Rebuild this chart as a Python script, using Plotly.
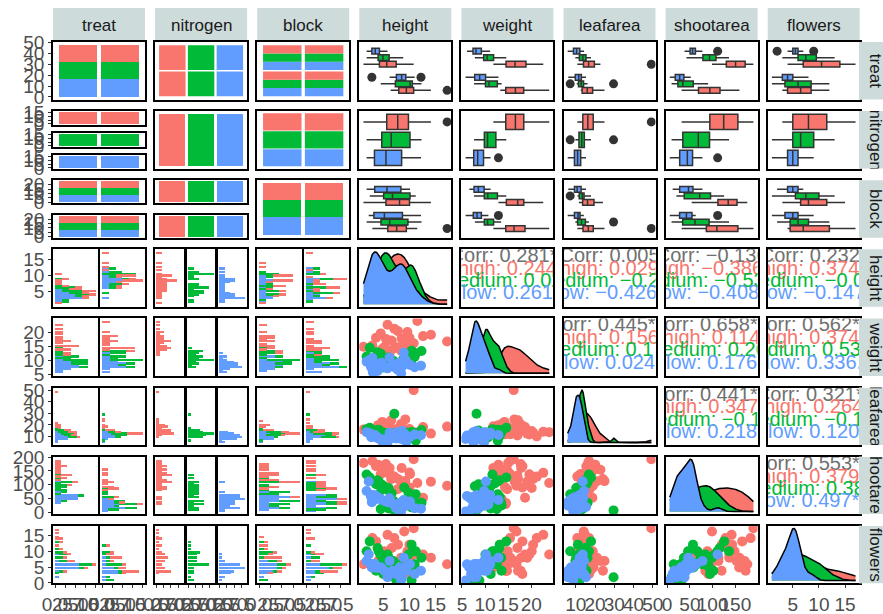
import numpy as np
import plotly.graph_objects as go

W, H = 883, 614
FONT = "Liberation Sans, Arial, Helvetica, sans-serif"

# ---------------- data (96 plants, read/estimated from the picture) ----------------
treat = ["tip"] * 48 + ["notip"] * 48
nitrogen = (["medium"] * 16 + ["high"] * 16 + ["low"] * 16) * 2
block = ([1] * 8 + [2] * 8) * 6

height = [
    7.5, 10.7, 11.2, 10.4, 10.4, 9.8, 6.9, 9.4, 10.4, 12.3, 10.4, 11.0, 7.1, 6.0, 9.0, 4.5,      # tip medium
    12.6, 10.0, 10.0, 8.5, 14.1, 10.1, 8.5, 6.5, 11.5, 7.7, 6.4, 9.2, 8.2, 7.4, 17.2, 9.6,       # tip high
    8.1, 7.4, 9.2, 8.6, 10.1, 6.2, 7.8, 9.4, 8.9, 12.2, 7.6, 2.8, 8.4, 9.0, 6.8, 11.0,           # tip low
    4.8, 6.2, 4.1, 6.6, 2.4, 5.3, 5.8, 3.9, 5.0, 1.8, 6.4, 4.4, 8.8, 3.6, 6.0, 4.6,              # notip medium
    5.2, 7.8, 4.0, 6.6, 1.2, 5.8, 8.4, 3.6, 4.5, 10.8, 6.2, 2.9, 7.1, 4.8, 9.0, 5.5,             # notip high
    3.2, 4.4, 2.6, 3.9, 1.8, 3.5, 5.2, 2.9, 3.7, 4.1, 2.2, 5.8, 3.0, 4.6, 3.4, 2.7,              # notip low
]
weight = [
    7.62, 12.14, 12.76, 8.78, 13.58, 10.08, 10.11, 10.28, 10.48, 13.48, 13.18, 11.56, 8.16, 11.22, 10.2, 12.55,
    18.66, 18.07, 13.29, 14.33, 19.12, 15.49, 17.82, 17.13, 23.89, 14.77, 13.6, 16.35, 14.44, 14.54, 16.8, 20.1,
    9.55, 7.64, 10.42, 8.12, 8.71, 11.2, 6.98, 9.81, 12.9, 8.43, 7.42, 9.02, 5.79, 10.73, 8.96, 7.89,
    11.4, 9.6, 12.6, 10.2, 14.6, 9.2, 10.9, 13.1, 7.8, 11.6, 9.9, 12.1, 10.6, 8.6, 10.3, 9.8,
    14.9, 20.4, 12.9, 17.0, 15.0, 22.6, 13.6, 18.1, 19.6, 16.2, 11.8, 15.4, 21.2, 14.2, 16.8, 17.7,
    7.6, 9.0, 8.4, 6.6, 9.8, 7.3, 8.0, 11.1, 7.0, 8.8, 10.2, 7.5, 6.1, 9.4, 8.1, 7.8,
]
leafarea = [
    11.7, 14.1, 7.1, 11.9, 14.5, 12.2, 13.2, 14.0, 10.5, 16.1, 11.1, 12.6, 29.6, 13.0, 10.8, 13.4,
    18.6, 16.9, 15.8, 13.2, 13.1, 12.6, 20.5, 24.1, 14.3, 17.2, 16.1, 24.9, 12.6, 13.4, 18.9, 15.2,
    12.7, 9.1, 11.3, 15.3, 10.4, 13.8, 9.9, 6.1, 12.0, 11.8, 14.2, 10.9, 8.7, 13.1, 9.6, 12.4,
    14.1, 10.9, 16.2, 12.8, 17.9, 13.5, 11.6, 15.0, 13.8, 16.8, 12.1, 14.4, 9.8, 15.6, 10.2, 13.0,
    18.8, 13.9, 20.1, 11.6, 16.4, 14.7, 21.0, 15.5, 12.4, 49.2, 19.2, 16.9, 10.8, 22.8, 14.1, 17.6,
    11.0, 8.6, 12.8, 9.5, 14.3, 10.3, 8.1, 12.2, 10.6, 9.0, 13.6, 5.8, 11.5, 7.4, 12.0, 10.1,
]
shootarea = [
    31.9, 46.0, 66.7, 20.3, 26.9, 72.7, 43.1, 28.5, 57.8, 36.9, 56.8, 31.3, 9.7, 16.4, 90.1, 14.4,
    54.0, 90.5, 142.7, 91.4, 110.7, 136.6, 158.9, 119.6, 105.9, 83.9, 49.6, 112.6, 31.8, 35.8, 96.2, 88.4,
    35.1, 18.2, 28.7, 21.5, 40.8, 52.0, 12.1, 26.4, 46.3, 15.8, 24.6, 38.4, 5.8, 30.2, 33.2, 17.4,
    98.7, 76.8, 110.4, 70.2, 125.3, 92.1, 84.0, 115.6, 94.3, 136.0, 64.5, 104.2, 42.5, 101.5, 88.6, 80.3,
    148.2, 120.2, 170.4, 131.8, 176.1, 141.7, 112.5, 165.0, 136.9, 189.6, 158.3, 183.4, 128.4, 152.6, 98.6, 172.5,
    58.0, 51.2, 61.5, 55.4, 77.6, 54.6, 42.5, 63.9, 49.7, 52.8, 111.0, 38.2, 60.1, 47.9, 62.8, 56.3,
]
flowers = [
    1, 10, 10, 1, 4, 9, 7, 6, 5, 8, 12, 6, 2, 3, 6, 6,
    9, 3, 12, 5, 8, 8, 8, 4, 9, 4, 5, 7, 4, 4, 6, 10,
    5, 3, 4, 2, 6, 7, 3, 4, 8, 4, 3, 5, 1, 5, 4, 3,
    8, 6, 10, 7, 13, 5, 9, 11, 3, 10, 6, 9, 7, 4, 8, 6,
    10, 12, 7, 11, 6, 15, 8, 13, 9, 17, 5, 14, 14, 7, 16, 4,
    6, 5, 6, 5, 7, 5, 4, 6, 5, 5, 9, 2, 6, 5, 6, 6,
]

variables = ["treat", "nitrogen", "block", "height", "weight", "leafarea", "shootarea", "flowers"]
treat_levels = ["notip", "tip"]
nitrogen_levels = ["high", "medium", "low"]
block_levels = [1, 2]

corr_lines = {
    ("height", "weight"): ["Corr: 0.281**", "high: 0.244", "medium: 0.024", "low: 0.261"],
    ("height", "leafarea"): ["Corr: 0.005", "high: 0.029", "medium: \u22120.230", "low: \u22120.426*"],
    ("height", "shootarea"): ["Corr: \u22120.136", "high: \u22120.386*", "medium: \u22120.532**", "low: \u22120.408*"],
    ("height", "flowers"): ["Corr: 0.232*", "high: 0.374*", "medium: \u22120.011", "low: \u22120.147"],
    ("weight", "leafarea"): ["Corr: 0.445***", "high: 0.156", "medium: 0.176", "low: 0.024"],
    ("weight", "shootarea"): ["Corr: 0.658***", "high: 0.114", "medium: 0.267", "low: 0.176"],
    ("weight", "flowers"): ["Corr: 0.562***", "high: 0.374*", "medium: 0.538**", "low: 0.336."],
    ("leafarea", "shootarea"): ["Corr: 0.441***", "high: 0.347.", "medium: \u22120.166", "low: 0.218"],
    ("leafarea", "flowers"): ["Corr: 0.321**", "high: 0.264", "medium: \u22120.126", "low: 0.120"],
    ("shootarea", "flowers"): ["Corr: 0.553***", "high: 0.379*", "medium: 0.380*", "low: 0.497**"],
}

y_tick_vals = {"height": [0, 5, 10, 15], "weight": [5, 10, 15, 20], "leafarea": [10, 20, 30, 40, 50],
               "shootarea": [0, 50, 100, 150, 200], "flowers": [0, 5, 10, 15]}
x_tick_vals = {"height": [5, 10, 15], "weight": [5, 10, 15, 20], "leafarea": [10, 20, 30, 40, 50],
               "shootarea": [0, 50, 100, 150], "flowers": [5, 10, 15]}
count_tick_vals = [0, 10, 20, 30, 40, 50]

# ---------------- styling / geometry ----------------
COL = {"high": "#F8766D", "medium": "#00BA38", "low": "#619CFF"}
STACK = ["low", "medium", "high"]      # from axis outward
DRAW = ["high", "medium", "low"]       # drawing order
STRIP = "#CDDBDA"
COLX = [53 + 102.1 * k for k in range(8)]
ROWY = [42 + 69.1 * k for k in range(8)]
PW, PH = 92.0, 57.5
TICKFONT = dict(family=FONT, size=19, color="#4D4D4D")

A = {"treat": np.array(treat), "nitrogen": np.array(nitrogen), "block": np.array(block),
     "height": np.array(height, float), "weight": np.array(weight, float),
     "leafarea": np.array(leafarea, float), "shootarea": np.array(shootarea, float),
     "flowers": np.array(flowers, float)}
LEVELS = {"treat": treat_levels, "nitrogen": nitrogen_levels, "block": block_levels}

layout_axes = {}
traces = []
n_ax = [0]


def add_axes(px0, px1, py0, py1, xr, yr, frame=True):
    n_ax[0] += 1
    s = "" if n_ax[0] == 1 else str(n_ax[0])
    base = dict(showgrid=False, zeroline=False, showline=frame, mirror=frame, linecolor="black",
                linewidth=1.5, ticks="", showticklabels=False, fixedrange=True, automargin=False,
                tickangle=0)
    xa = dict(base, domain=[px0 / W, px1 / W], range=list(xr), anchor="y" + s)
    ya = dict(base, domain=[1 - py1 / H, 1 - py0 / H], range=list(yr), anchor="x" + s)
    layout_axes["xaxis" + s] = xa
    layout_axes["yaxis" + s] = ya
    return "x" + s, "y" + s, xa, ya


def fmt(v):
    return str(int(v)) if float(v).is_integer() else str(v)


def set_ticks(ax, vals, texts=None):
    ax.update(ticks="outside", ticklen=3, tickwidth=1.2, tickcolor="#333333", showticklabels=True,
              tickvals=list(vals), ticktext=texts if texts is not None else [fmt(v) for v in vals],
              tickfont=TICKFONT)


def count_ticks(top):
    for step in [1, 2, 2.5, 5, 10, 20, 25, 50]:
        if top / step <= 4.5:
            break
    vals = np.arange(0, top + 1e-9, step)
    dec = step != int(step)
    return list(vals), [f"{v:.1f}" if dec else f"{int(v)}" for v in vals]


def cont_range(v):
    lo, hi = float(np.min(v)), float(np.max(v))
    r = hi - lo
    return [lo - 0.05 * r, hi + 0.05 * r]


def hist_edges(v):
    lo, hi = float(np.min(v)), float(np.max(v))
    w = (hi - lo) / 29.0
    return lo - w / 2 + w * np.arange(31), w


def hist_range(v):
    e, w = hist_edges(v)
    r = e[-1] - e[0]
    return [e[0] - 0.05 * r, e[-1] + 0.05 * r]


def kde(x, grid):
    x = np.asarray(x, float)
    sd = x.std(ddof=1)
    q75, q25 = np.percentile(x, [75, 25])
    lo = min(sd, (q75 - q25) / 1.34)
    if lo <= 0:
        lo = sd if sd > 0 else 1.0
    bw = 0.9 * lo * len(x) ** (-0.2)
    z = (grid[:, None] - x[None, :]) / bw
    return np.exp(-0.5 * z ** 2).sum(axis=1) / (len(x) * bw * np.sqrt(2 * np.pi))


def hsplit(x0, n, gap):
    w = (PW - gap * (n - 1)) / n
    return [(x0 + k * (w + gap), x0 + k * (w + gap) + w) for k in range(n)]


def vsplit(y0, n, gap):
    h = (PH - gap * (n - 1)) / n
    return [(y0 + k * (h + gap), y0 + k * (h + gap) + h) for k in range(n)]


NIT = A["nitrogen"]

for i, vi in enumerate(variables):
    for j, vj in enumerate(variables):
        x0, y0 = COLX[j], ROWY[i]
        disc_i, disc_j = i < 3, j < 3

        if i == j and disc_i:
            levs = LEVELS[vi]
            pos = list(range(1, len(levs) + 1))
            cnt = {nl: [int(np.sum((A[vi] == lv) & (NIT == nl))) for lv in levs] for nl in STACK}
            tot = max(sum(cnt[nl][k] for nl in STACK) for k in range(len(levs)))
            xi, yi, xa, ya = add_axes(x0, x0 + PW, y0, y0 + PH, [0.4, len(levs) + 0.6], [-0.05 * tot, 1.05 * tot])
            for nl in STACK:
                traces.append(go.Bar(x=pos, y=cnt[nl], width=0.9, marker=dict(color=COL[nl], line=dict(width=0)),
                                     xaxis=xi, yaxis=yi))
            if j == 0:
                set_ticks(ya, count_tick_vals)

        elif i == j:
            vals = A[vi]
            grid = np.linspace(vals.min(), vals.max(), 300)
            dens = {nl: kde(vals[NIT == nl], grid) for nl in nitrogen_levels}
            dm = max(d.max() for d in dens.values())
            xi, yi, xa, ya = add_axes(x0, x0 + PW, y0, y0 + PH, cont_range(vals), [-0.05 * dm, 1.05 * dm])
            for nl in DRAW:
                traces.append(go.Scatter(x=grid, y=dens[nl], mode="lines", fill="tozeroy", fillcolor=COL[nl],
                                         line=dict(color="black", width=1.5), xaxis=xi, yaxis=yi))
            if i == 7:
                set_ticks(xa, x_tick_vals[vj])

        elif i < j and disc_i and disc_j:
            li, lj = LEVELS[vi], LEVELS[vj]
            ni, nj = len(li), len(lj)
            cells = {}
            for a in li:
                for b in lj:
                    m = (A[vi] == a) & (A[vj] == b)
                    cells[(a, b)] = {nl: int(np.sum(m & (NIT == nl))) for nl in STACK}
            nmax = max(sum(c.values()) for c in cells.values())
            xi, yi, xa, ya = add_axes(x0, x0 + PW, y0, y0 + PH, [0.4, nj + 0.6], [0.4, ni + 0.6])
            for ai, a in enumerate(li):
                yc = ni - ai
                for bi, b in enumerate(lj):
                    xc = bi + 1
                    c = cells[(a, b)]
                    n = sum(c.values())
                    if n == 0:
                        continue
                    s = np.sqrt(n / nmax)
                    ww, hh = 0.92 * s, 0.95 * s
                    yb = yc - hh / 2
                    for nl in STACK:
                        if c[nl] == 0:
                            continue
                        h = hh * c[nl] / n
                        traces.append(go.Scatter(
                            x=[xc - ww / 2, xc + ww / 2, xc + ww / 2, xc - ww / 2, xc - ww / 2],
                            y=[yb, yb, yb + h, yb + h, yb], mode="lines", fill="toself",
                            fillcolor=COL[nl], line=dict(width=0), xaxis=xi, yaxis=yi))
                        yb += h

        elif i < j and disc_i:
            vals = A[vj]
            if vi == "nitrogen":
                xi, yi, xa, ya = add_axes(x0, x0 + PW, y0, y0 + PH, cont_range(vals), [0.4, 3.6])
                specs = [(vals[NIT == nl], 3 - k, 0.85, nl) for k, nl in enumerate(nitrogen_levels)]
            else:
                li = LEVELS[vi]
                xi, yi, xa, ya = add_axes(x0, x0 + PW, y0, y0 + PH, cont_range(vals), [0.4, len(li) + 0.6])
                specs = []
                for ai, a in enumerate(li):
                    g = len(li) - ai
                    for nl, off in (("low", 0.25), ("medium", 0.0), ("high", -0.25)):
                        m = (A[vi] == a) & (NIT == nl)
                        specs.append((vals[m], g + off, 0.22, nl))
            for v, p, w, nl in specs:
                traces.append(go.Box(x=v, y0=p, orientation="h", width=w, fillcolor=COL[nl],
                                     line=dict(color="#333333", width=1.5),
                                     marker=dict(color="#333333", size=9, line=dict(width=0)),
                                     boxpoints="outliers", quartilemethod="linear", whiskerwidth=0,
                                     xaxis=xi, yaxis=yi))

        elif i < j:
            xi, yi, xa, ya = add_axes(x0, x0 + PW, y0, y0 + PH, [0, 1], [0, 1])
            lines = corr_lines[(vi, vj)]
            traces.append(go.Scatter(x=[0.5] * 4, y=[0.86, 0.635, 0.425, 0.215], mode="text", text=lines,
                                     textposition="middle center", cliponaxis=True,
                                     textfont=dict(family=FONT, size=20,
                                                   color=["#707070", COL["high"], COL["medium"], COL["low"]]),
                                     xaxis=xi, yaxis=yi))

        elif disc_i and disc_j:
            li, lj = LEVELS[vi], LEVELS[vj]
            gap = 8.5 if len(li) == 3 else 11.5
            facets = vsplit(y0, len(li), gap)
            cnts = {a: {nl: [int(np.sum((A[vi] == a) & (A[vj] == b) & (NIT == nl))) for b in lj] for nl in STACK}
                    for a in li}
            tmax = max(sum(cnts[a][nl][k] for nl in STACK) for a in li for k in range(len(lj)))
            for fi, a in enumerate(li):
                fy0, fy1 = facets[fi]
                xi, yi, xa, ya = add_axes(x0, x0 + PW, fy0, fy1, [0.4, len(lj) + 0.6], [-0.05 * tmax, 1.05 * tmax])
                for nl in STACK:
                    traces.append(go.Bar(x=list(range(1, len(lj) + 1)), y=cnts[a][nl], width=0.9,
                                         marker=dict(color=COL[nl], line=dict(width=0)), xaxis=xi, yaxis=yi))
                if j == 0:
                    set_ticks(ya, [v for v in [0, 5, 10, 15, 20] if v <= 1.05 * tmax])

        elif disc_j:
            vals = A[vi]
            edges, w = hist_edges(vals)
            centers = edges[:-1] + w / 2
            lj = LEVELS[vj]
            nf = len(lj)
            facets = hsplit(x0, nf, 3.0 if nf == 3 else 2.5)
            counts = {b: {nl: np.histogram(vals[(A[vj] == b) & (NIT == nl)], bins=edges)[0] for nl in STACK}
                      for b in lj}
            m = max((sum(counts[b][nl] for nl in STACK)).max() for b in lj)
            for fi, b in enumerate(lj):
                fx0, fx1 = facets[fi]
                xi, yi, xa, ya = add_axes(fx0, fx1, y0, y0 + PH, [-0.05 * m, 1.05 * m], hist_range(vals))
                for nl in STACK:
                    traces.append(go.Bar(y=centers, x=counts[b][nl], orientation="h", width=w,
                                         marker=dict(color=COL[nl], line=dict(width=0)), xaxis=xi, yaxis=yi))
                if j == 0 and fi == 0:
                    set_ticks(ya, y_tick_vals[vi])
                if i == 7:
                    tv, tt = count_ticks(1.05 * m)
                    set_ticks(xa, tv, tt)

        else:
            xi, yi, xa, ya = add_axes(x0, x0 + PW, y0, y0 + PH, cont_range(A[vj]), cont_range(A[vi]))
            for nl in DRAW:
                msk = NIT == nl
                traces.append(go.Scatter(x=A[vj][msk], y=A[vi][msk], mode="markers", cliponaxis=True,
                                         marker=dict(size=10, color=COL[nl], line=dict(width=0)),
                                         xaxis=xi, yaxis=yi))
            if i == 7:
                set_ticks(xa, x_tick_vals[vj])

# right-hand strips (rotated, clipped text)
for i, vi in enumerate(variables):
    xi, yi, xa, ya = add_axes(859, W, ROWY[i], ROWY[i] + PH, [0, 1], [-0.5, 0.5], frame=False)
    traces.append(go.Bar(y=[0], x=[1.34], base=[0], orientation="h", width=1.0, text=[vi],
                         textposition="inside", insidetextanchor="middle", textangle=90, constraintext="none",
                         cliponaxis=True, marker=dict(color=STRIP, line=dict(width=0)),
                         insidetextfont=dict(family=FONT, size=17, color="#1A1A1A"), xaxis=xi, yaxis=yi))

# top strips
shapes, annotations = [], []
for j, vj in enumerate(variables):
    shapes.append(dict(type="rect", xref="paper", yref="paper", x0=COLX[j] / W, x1=(COLX[j] + PW) / W,
                       y0=1 - 42 / H, y1=1 - 8 / H, fillcolor=STRIP, line=dict(width=0), layer="below"))
    annotations.append(dict(xref="paper", yref="paper", x=(COLX[j] + PW / 2) / W, y=1 - 25 / H, text=vj,
                            showarrow=False, xanchor="center", yanchor="middle",
                            font=dict(family=FONT, size=17, color="#1A1A1A")))

fig = go.Figure(data=traces)
fig.update_layout(**layout_axes)
fig.update_layout(width=W, height=H, margin=dict(l=0, r=0, t=0, b=0, autoexpand=False), paper_bgcolor="white",
                  plot_bgcolor="white", showlegend=False, barmode="stack", bargap=0, boxmode="overlay",
                  hovermode=False, shapes=shapes, annotations=annotations, font=dict(family=FONT))
fig.write_html("out.html", config={"displayModeBar": False},
               post_script="document.body.style.margin='0';document.body.style.overflow='hidden';")
